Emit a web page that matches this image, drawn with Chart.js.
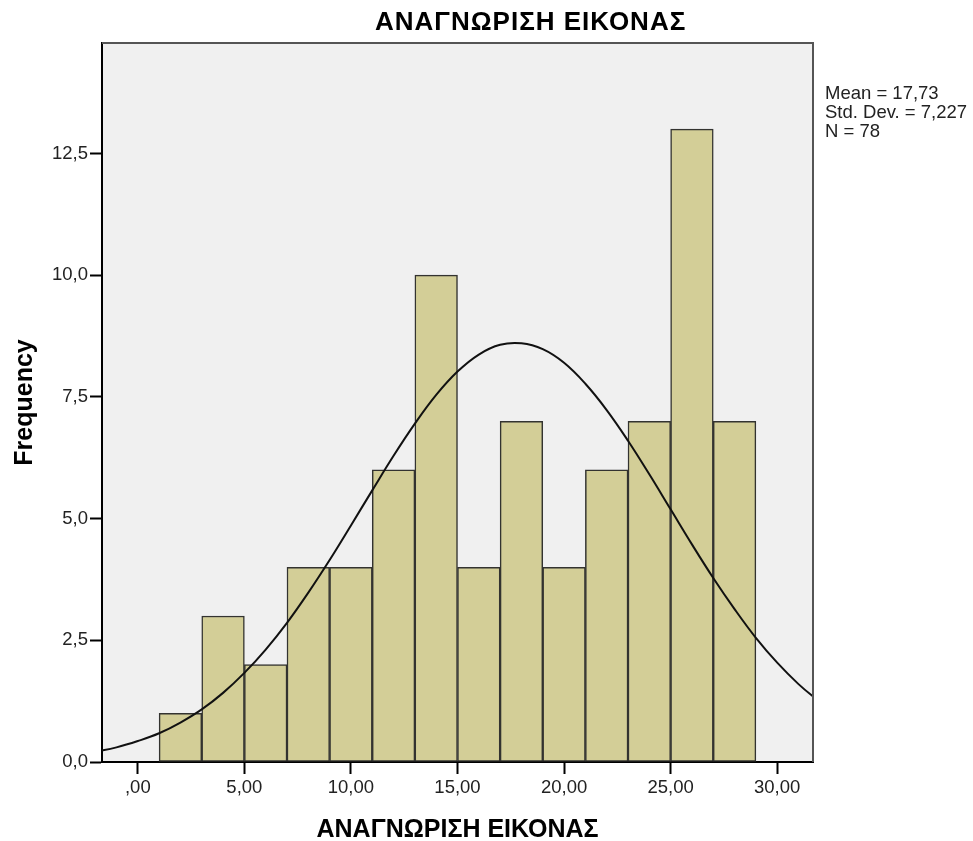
<!DOCTYPE html>
<html>
<head>
<meta charset="utf-8">
<script src="https://cdn.jsdelivr.net/npm/chart.js@4.4.1/dist/chart.umd.min.js"></script>
<style>
  html, body { margin: 0; padding: 0; background: #fff; }
  #wrap { width: 973px; height: 841px; }
</style>
</head>
<body>
<div id="wrap"><canvas id="hist" width="973" height="841"></canvas></div>
<script>
// --- Data ---
const chartTitle = 'ΑΝΑΓΝΩΡΙΣΗ ΕΙΚΟΝΑΣ';
const xTitle = 'ΑΝΑΓΝΩΡΙΣΗ ΕΙΚΟΝΑΣ';
const yTitle = 'Frequency';
const statsLines = ['Mean = 17,73', 'Std. Dev. = 7,227', 'N = 78'];

// histogram bins (width 2), centres and counts
const binCenters = [2, 4, 6, 8, 10, 12, 14, 16, 18, 20, 22, 24, 26, 28];
const counts = [1, 3, 2, 4, 4, 6, 10, 4, 7, 4, 6, 7, 13, 7];

// normal curve
const curveX = [-2, -1, 0, 1, 2, 3, 4, 5, 6, 7, 8, 9, 10, 11, 12, 13, 14, 15, 16,
  17, 18, 19, 20, 21, 22, 23, 24, 25, 26, 27, 28, 29, 30, 31, 32];
const curveY = [0.21, 0.30, 0.43, 0.59, 0.81, 1.08, 1.42, 1.83, 2.31, 2.86, 3.48, 4.15,
  4.86, 5.58, 6.29, 6.95, 7.54, 8.02, 8.37, 8.57, 8.60, 8.48, 8.20, 7.77, 7.23, 6.60,
  5.91, 5.19, 4.47, 3.78, 3.14, 2.55, 2.04, 1.60, 1.23];

const xTicks = [0, 5, 10, 15, 20, 25, 30];
const yTicks = [0, 2.5, 5, 7.5, 10, 12.5];
const xRange = [-1.68, 31.68];
const yRange = [0, 14.77];

// --- Helpers ---
const fmtX = v => v === 0 ? ',00' : v.toFixed(2).replace('.', ',');
const fmtY = v => v.toFixed(1).replace('.', ',');

// background, frame and loose texts
const decor = {
  id: 'decor',
  beforeDraw(chart) {
    const { ctx, chartArea: a } = chart;
    ctx.save();
    ctx.fillStyle = '#f0f0f0';
    ctx.fillRect(a.left, a.top, a.right - a.left, a.bottom - a.top);
    ctx.restore();
  },
  afterDraw(chart) {
    const { ctx, chartArea: a } = chart;
    ctx.save();
    // top and right frame
    ctx.strokeStyle = '#555';
    ctx.lineWidth = 2;
    ctx.beginPath();
    ctx.moveTo(a.left, a.top);
    ctx.lineTo(a.right, a.top);
    ctx.lineTo(a.right, a.bottom);
    ctx.stroke();

    ctx.fillStyle = '#000';
    // chart title
    ctx.font = 'bold 26px "Liberation Sans", Arial, sans-serif';
    ctx.letterSpacing = '1px';
    ctx.textAlign = 'left';
    ctx.textBaseline = 'alphabetic';
    ctx.fillText(chartTitle, 375, 30);
    ctx.letterSpacing = '0px';

    // x title
    ctx.font = 'bold 25px "Liberation Sans", Arial, sans-serif';
    ctx.textAlign = 'center';
    ctx.fillText(xTitle, (a.left + a.right) / 2, 837);

    // y title
    ctx.save();
    ctx.translate(31.5, (a.top + a.bottom) / 2);
    ctx.rotate(-Math.PI / 2);
    ctx.fillText(yTitle, 0, 0);
    ctx.restore();

    // stats box
    ctx.font = '18.5px "Liberation Sans", Arial, sans-serif';
    ctx.fillStyle = '#222';
    ctx.textAlign = 'left';
    statsLines.forEach((line, i) => ctx.fillText(line, 825, 99 + i * 19));
    ctx.restore();
  }
};

const ctx = document.getElementById('hist').getContext('2d');
new Chart(ctx, {
  type: 'bar',
  data: {
    datasets: [{
      type: 'line',
      label: 'Normal',
      data: curveX.map((x, i) => ({ x, y: curveY[i] })),
      borderColor: '#111',
      borderWidth: 2,
      pointRadius: 0,
      tension: 0.4,
      fill: false,
      clip: 0,
      order: 0
    }, {
      type: 'bar',
      label: 'Frequency',
      data: binCenters.map((x, i) => ({ x, y: counts[i] })),
      backgroundColor: '#d3ce97',
      borderColor: '#333330',
      borderWidth: 1.5,
      borderSkipped: false,
      barPercentage: 1,
      categoryPercentage: 1,
      order: 1
    }]
  },
  options: {
    responsive: false,
    animation: false,
    layout: { padding: { left: 0, top: 43, right: 160, bottom: 0 } },
    plugins: {
      legend: { display: false },
      tooltip: { enabled: false }
    },
    scales: {
      x: {
        type: 'linear',
        min: xRange[0],
        max: xRange[1],
        offset: false,
        afterBuildTicks: scale => { scale.ticks = xTicks.map(v => ({ value: v })); },
        afterFit: scale => { scale.height = 79; },
        grid: { display: true, offset: false, drawOnChartArea: false, drawTicks: true, tickLength: 12, tickColor: '#000', tickWidth: 2 },
        border: { display: true, color: '#000', width: 2 },
        ticks: {
          callback: v => fmtX(v),
          color: '#222',
          padding: 3,
          maxRotation: 0,
          font: { family: '"Liberation Sans", Arial, sans-serif', size: 18.5 }
        }
      },
      y: {
        min: yRange[0],
        max: yRange[1],
        afterBuildTicks: scale => { scale.ticks = yTicks.map(v => ({ value: v })); },
        afterFit: scale => { scale.width = 102; },
        grid: { display: true, offset: false, drawOnChartArea: false, drawTicks: true, tickLength: 12, tickColor: '#000', tickWidth: 2 },
        border: { display: true, color: '#000', width: 2 },
        ticks: {
          callback: v => fmtY(v),
          color: '#222',
          padding: 2,
          font: { family: '"Liberation Sans", Arial, sans-serif', size: 18.5 }
        }
      }
    }
  },
  plugins: [decor]
});
</script>
</body>
</html>
